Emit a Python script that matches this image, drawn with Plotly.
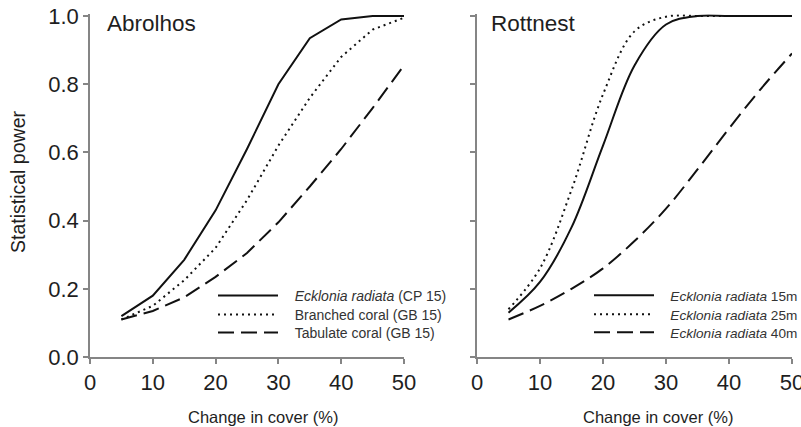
import plotly.graph_objects as go

# ---------------- data ----------------
change_cover = [5, 10, 15, 20, 25, 30, 35, 40, 45, 50]

abrolhos_ecklonia_cp15 = [0.12, 0.18, 0.285, 0.43, 0.61, 0.80, 0.935, 0.99, 1.0, 1.0]
abrolhos_branched_gb15 = [0.11, 0.15, 0.225, 0.32, 0.46, 0.62, 0.76, 0.88, 0.96, 0.995]
abrolhos_tabulate_gb15 = [0.11, 0.135, 0.175, 0.235, 0.305, 0.395, 0.50, 0.61, 0.73, 0.855]

rottnest_ecklonia_15m = [0.13, 0.22, 0.38, 0.62, 0.855, 0.975, 1.0, 1.0, 1.0, 1.0]
rottnest_ecklonia_25m = [0.14, 0.26, 0.49, 0.77, 0.955, 0.998, 1.0, 1.0, 1.0, 1.0]
rottnest_ecklonia_40m = [0.11, 0.15, 0.20, 0.26, 0.34, 0.435, 0.55, 0.67, 0.785, 0.89]

x_ticks = [0, 10, 20, 30, 40, 50]
y_ticks = [0.0, 0.2, 0.4, 0.6, 0.8, 1.0]

panel_titles = ["Abrolhos", "Rottnest"]
x_title = "Change in cover (%)"
y_title = "Statistical power"

abrolhos_names = ["<i>Ecklonia radiata</i> (CP 15)", "Branched coral (GB 15)", "Tabulate coral (GB 15)"]
rottnest_names = ["<i>Ecklonia radiata</i> 15m", "<i>Ecklonia radiata</i> 25m", "<i>Ecklonia radiata</i> 40m"]

# ---------------- styling ----------------
W, H = 801, 427
FONT = "Liberation Sans, Arial, sans-serif"
LINE_COL = "#111111"
AXIS_COL = "#858585"
TEXT_COL = "#1e1e1e"
LEG_COL = "#333333"
dashes = ["solid", "2px,4px", "16px,7px"]
row_centers = [296, 315, 333]
ITEMW = 60
PAD = "&nbsp;&nbsp;&nbsp;"

def px_x(p):
    return p / W

def px_y(p):
    return 1 - p / H

fig = go.Figure()
legends = {}

for i, (ys, name, dash) in enumerate(zip([abrolhos_ecklonia_cp15, abrolhos_branched_gb15, abrolhos_tabulate_gb15],
                                         abrolhos_names, dashes)):
    lg = "legend" if i == 0 else f"legend{i + 1}"
    fig.add_trace(go.Scatter(x=change_cover, y=ys, name=PAD + name, mode="lines",
                             line=dict(color=LINE_COL, width=2, dash=dash),
                             xaxis="x", yaxis="y", legend=lg))
    legends[lg] = dict(x=px_x(283 - 10 - ITEMW), y=px_y(row_centers[i] - 16), size=14)

for i, (ys, name, dash) in enumerate(zip([rottnest_ecklonia_15m, rottnest_ecklonia_25m, rottnest_ecklonia_40m],
                                         rottnest_names, dashes)):
    lg = f"legend{i + 4}"
    fig.add_trace(go.Scatter(x=change_cover, y=ys, name=PAD + name, mode="lines",
                             line=dict(color=LINE_COL, width=2, dash=dash, shape="spline", smoothing=1.0),
                             xaxis="x2", yaxis="y2", legend=lg))
    legends[lg] = dict(x=px_x(659 - 10 - ITEMW), y=px_y(row_centers[i] - 16), size=13.6)

ytop = 1.005
y_bottom_px, y_top_px = 357, 357 - 341 * ytop

axis_common = dict(showline=True, linecolor=AXIS_COL, linewidth=1.5, ticks="outside",
                   tickcolor=AXIS_COL, tickwidth=1.5, ticklen=5, showgrid=False, zeroline=False,
                   tickfont=dict(family=FONT, size=22, color=TEXT_COL), automargin=False,
                   ticklabeloverflow="allow")

fig.update_layout(
    width=W, height=H,
    margin=dict(l=0, r=0, t=0, b=0, autoexpand=False),
    paper_bgcolor="white", plot_bgcolor="white",
    font=dict(family=FONT, color=TEXT_COL),
    xaxis=dict(domain=[px_x(90), px_x(404)], range=[0, 50], tickvals=x_ticks, anchor="y", **axis_common),
    yaxis=dict(domain=[px_y(y_bottom_px), px_y(y_top_px)], range=[0, ytop], tickvals=y_ticks,
               tickformat=".1f", anchor="x", **axis_common),
    xaxis2=dict(domain=[px_x(477), px_x(792)], range=[0, 50], tickvals=x_ticks, anchor="y2", **axis_common),
    yaxis2=dict(domain=[px_y(y_bottom_px), px_y(y_top_px)], range=[0, ytop], tickvals=y_ticks,
                showticklabels=False, anchor="x2", **axis_common),
    showlegend=True,
)
for lg, d in legends.items():
    fig.update_layout({lg: dict(x=d["x"], y=d["y"], xanchor="left", yanchor="top",
                                bgcolor="rgba(0,0,0,0)", itemwidth=ITEMW,
                                font=dict(family=FONT, size=d["size"], color=LEG_COL))})

annotations = [
    dict(text=panel_titles[0], x=px_x(105), y=px_y(24), xanchor="left", yanchor="middle"),
    dict(text=panel_titles[1], x=px_x(489), y=px_y(24), xanchor="left", yanchor="middle"),
]
for a in annotations:
    a.update(xref="paper", yref="paper", showarrow=False, font=dict(family=FONT, size=22.5, color=TEXT_COL))

annotations += [
    dict(text=x_title, x=px_x(263), y=px_y(417), xref="paper", yref="paper", showarrow=False,
         xanchor="center", yanchor="middle", font=dict(family=FONT, size=16.5, color=TEXT_COL)),
    dict(text=x_title, x=px_x(658), y=px_y(417), xref="paper", yref="paper", showarrow=False,
         xanchor="center", yanchor="middle", font=dict(family=FONT, size=16.5, color=TEXT_COL)),
    dict(text=y_title, x=px_x(18.5), y=px_y(182.5), xref="paper", yref="paper", showarrow=False,
         textangle=-90, xanchor="center", yanchor="middle", font=dict(family=FONT, size=19.5, color=TEXT_COL)),
]
fig.update_layout(annotations=annotations)

fig.write_html("out.html", config={"displayModeBar": False},
               post_script="document.body.style.margin='0px';document.body.style.overflow='hidden';")
